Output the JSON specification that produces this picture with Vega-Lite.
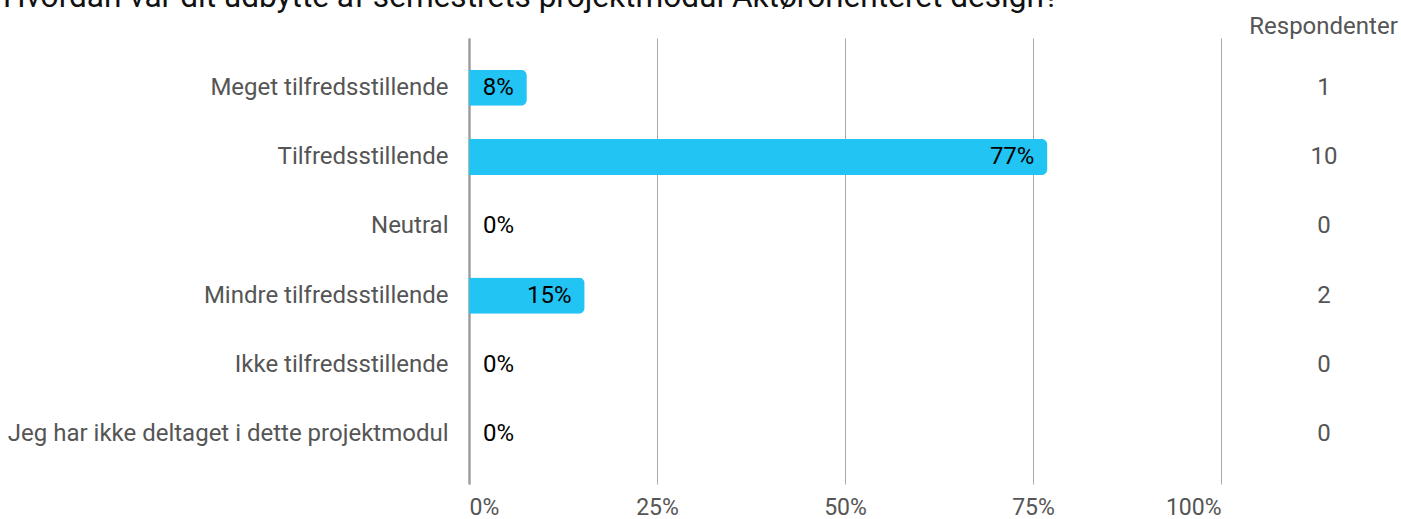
{
  "$schema": "https://vega.github.io/schema/vega-lite/v6.json",
  "width": 752,
  "height": 446,
  "autosize": {"type": "none"},
  "padding": {"left": 469, "top": 38, "right": 180, "bottom": 35},
  "background": "white",
  "title": {
    "text": "Hvordan var dit udbytte af semestrets projektmodul Aktørorienteret design?",
    "anchor": "start",
    "frame": "group",
    "dx": -466,
    "font": "Roboto",
    "fontSize": 31.6,
    "fontWeight": "normal",
    "color": "#111111",
    "baseline": "alphabetic",
    "offset": -25
  },
  "data": {
    "values": [
      {"category": "Meget tilfredsstillende", "share": 0.0769, "count": 1},
      {"category": "Tilfredsstillende", "share": 0.7692, "count": 10},
      {"category": "Neutral", "share": 0, "count": 0},
      {"category": "Mindre tilfredsstillende", "share": 0.1538, "count": 2},
      {"category": "Ikke tilfredsstillende", "share": 0, "count": 0},
      {"category": "Jeg har ikke deltaget i dette projektmodul", "share": 0, "count": 0}
    ]
  },
  "layer": [
    {
      "mark": {"type": "bar", "color": "#22c4f4", "cornerRadiusEnd": 6},
      "encoding": {
        "y": {
          "field": "category",
          "type": "nominal",
          "sort": null,
          "scale": {"paddingInner": 0.48, "paddingOuter": 0.46},
          "axis": {
            "title": null,
            "ticks": false,
            "labelPadding": 21,
            "labelFont": "Roboto",
            "labelFontSize": 24,
            "labelColor": "#555555",
            "labelLimit": 600,
            "domain": true,
            "domainColor": "#9e9e9e",
            "domainWidth": 2.5,
            "grid": false
          }
        },
        "x": {
          "field": "share",
          "type": "quantitative",
          "scale": {"domain": [0, 1], "nice": false},
          "axis": {
            "title": null,
            "values": [0, 0.25, 0.5, 0.75, 1],
            "format": ".0%",
            "ticks": false,
            "domain": false,
            "grid": true,
            "gridColor": "#aaaaaa",
            "gridWidth": 1,
            "labelPadding": 12,
            "labelFont": "Roboto",
            "labelFontSize": 23,
            "labelColor": "#555555",
            "labelFlush": true
          }
        }
      }
    },
    {
      "transform": [{"filter": "datum.share > 0"}],
      "mark": {"type": "text", "align": "right", "dx": -13, "font": "Roboto", "fontSize": 24, "color": "#000000", "baseline": "middle"},
      "encoding": {
        "y": {"field": "category", "type": "nominal", "sort": null, "axis": null},
        "x": {"field": "share", "type": "quantitative"},
        "text": {"field": "share", "type": "quantitative", "format": ".0%"}
      }
    },
    {
      "transform": [{"filter": "datum.share == 0"}],
      "mark": {"type": "text", "align": "left", "dx": 14, "font": "Roboto", "fontSize": 24, "color": "#000000", "baseline": "middle"},
      "encoding": {
        "y": {"field": "category", "type": "nominal", "sort": null, "axis": null},
        "x": {"field": "share", "type": "quantitative"},
        "text": {"field": "share", "type": "quantitative", "format": ".0%"}
      }
    },
    {
      "mark": {"type": "text", "align": "center", "font": "Roboto", "fontSize": 24, "color": "#555555", "baseline": "middle"},
      "encoding": {
        "x": {"datum": 1.137},
        "y": {
          "field": "category",
          "type": "nominal",
          "sort": null,
          "axis": {
            "orient": "right",
            "labels": false,
            "ticks": false,
            "domain": false,
            "grid": false,
            "title": "Respondenter",
            "titleAngle": 0,
            "titleAlign": "center",
            "titleBaseline": "middle",
            "titleX": 102,
            "titleY": -12,
            "titleFont": "Roboto",
            "titleFontSize": 24,
            "titleFontWeight": "normal",
            "titleColor": "#555555"
          }
        },
        "text": {"field": "count", "type": "quantitative"}
      }
    }
  ],
  "resolve": {"axis": {"y": "independent"}},
  "config": {"view": {"stroke": null}}
}
